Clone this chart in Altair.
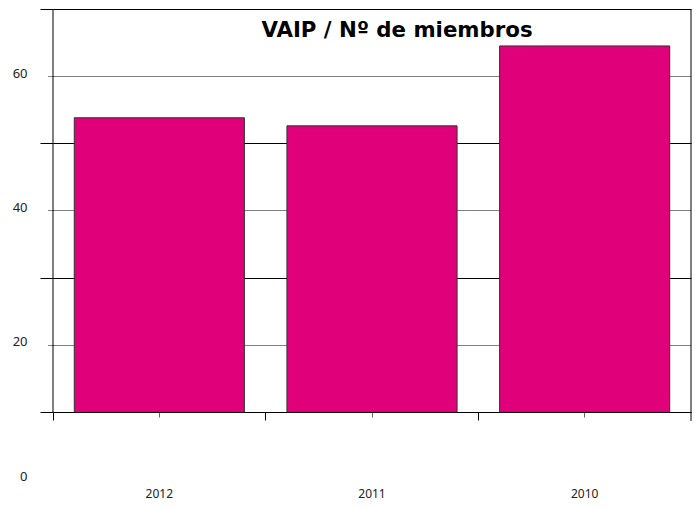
import altair as alt
import pandas as pd

# ---- data ----
years = ["2012", "2011", "2010"]
members = [53.8, 52.6, 64.5]
bar_base = [10, 10, 10]
y_tick_values = [0, 10, 20, 30, 40, 50, 60, 70]
title_text = "VAIP / Nº de miembros"

df = pd.DataFrame({"year": years, "members": members, "base": bar_base})

x_scale = alt.Scale(domain=years, paddingInner=0, paddingOuter=0)
y_scale = alt.Scale(domain=[0, 70], nice=False, zero=False)

is_major = "datum.value % 20 == 0"

y_axis = alt.Axis(
    values=y_tick_values,
    title=None,
    domain=False,
    labelExpr="datum.value % 20 == 0 ? datum.label : ''",
    grid=True,
    gridColor="#000000",
    gridWidth=1,
    gridDash={"condition": {"test": is_major, "value": [1, 1]}, "value": []},
    gridOpacity={"condition": {"test": "datum.value == 0", "value": 0}, "value": 1},
    ticks=True,
    tickColor="#000000",
    tickWidth=1,
    tickSize={"condition": {"test": is_major, "value": 6}, "value": 13},
    tickDash={"condition": {"test": is_major, "value": [1, 1]}, "value": []},
    tickOpacity={"condition": {"test": "datum.value == 0", "value": 0}, "value": 1},
    labelFont="Noto Sans",
    labelFontSize=13,
    labelColor="#222222",
    labelPadding=20,
    labelOffset=-3,
)

x_axis_labels = alt.Axis(
    title=None,
    orient="bottom",
    offset=-67,
    domain=True,
    domainColor="#000000",
    domainWidth=1,
    ticks=True,
    tickSize=5,
    tickColor="#666666",
    tickWidth=1,
    labelAngle=0,
    labelFont="Noto Sans",
    labelFontSize=12,
    labelColor="#222222",
    labelPadding=71,
    grid=False,
)

x_axis_edges = alt.Axis(
    title=None,
    orient="bottom",
    offset=-67,
    domain=False,
    ticks=True,
    tickSize=8,
    tickColor="#000000",
    tickWidth=1,
    bandPosition=0,
    labels=False,
    grid=False,
)

bars = alt.Chart(df).mark_bar(
    width=alt.RelativeBandSize(0.8),
    color="#E0007A",
    stroke="#333333",
    strokeWidth=1,
).encode(
    x=alt.X("year:N", scale=x_scale, axis=x_axis_labels, sort=None),
    y=alt.Y("members:Q", scale=y_scale, axis=y_axis),
    y2=alt.Y2("base:Q"),
)

edge_ticks = alt.Chart(df).mark_point(opacity=0).encode(
    x=alt.X("year:N", scale=x_scale, axis=x_axis_edges, sort=None),
    y=alt.value(0),
)

spine_df = pd.DataFrame({"k": [0]})
left_spine = alt.Chart(spine_df).mark_rule(color="#000000", strokeWidth=1).encode(
    x=alt.value(0), y=alt.value(0), y2=alt.value(403)
)
right_spine = alt.Chart(spine_df).mark_rule(color="#000000", strokeWidth=1).encode(
    x=alt.value(638), y=alt.value(0), y2=alt.value(412)
)

title = alt.Chart(pd.DataFrame({"t": [title_text]})).mark_text(
    font="DejaVu Sans",
    fontWeight="bold",
    fontSize=21.3,
    baseline="alphabetic",
    align="center",
    color="#000000",
).encode(text="t:N", x=alt.value(344), y=alt.value(28))

chart = (
    alt.layer(bars, edge_ticks, left_spine, right_spine, title)
    .resolve_axis(x="independent")
    .properties(
        width=638,
        height=470,
        autosize=alt.AutoSizeParams(type="none"),
        padding={"left": 45, "top": 1, "right": 1, "bottom": 21},
        background="#ffffff",
    )
    .configure_view(stroke=None)
)

chart.save("out.html", embed_options={"renderer": "svg", "actions": False})
